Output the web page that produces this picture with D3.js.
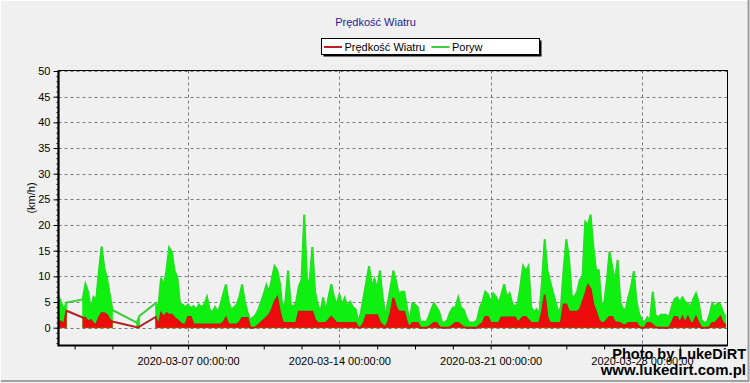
<!DOCTYPE html>
<html><head><meta charset="utf-8">
<script src="https://cdn.jsdelivr.net/npm/d3@7"></script>
<style>
html,body{margin:0;padding:0;background:#f0f0f0;}
svg{display:block;font-family:"Liberation Sans",Arial,sans-serif;}
</style></head>
<body>
<svg id="c" width="750" height="383"></svg>
<script>
// ---- data (3-hourly samples from 2020-03-01 00:00; null = no data) ----
const title = "Prędkość Wiatru";
const seriesNames = ["Prędkość Wiatru", "Poryw"];
const yLabel = "(km/h)";
const startTime = new Date(2020, 2, 1, 0, 0);
const endTime = new Date(2020, 2, 31, 23, 0);
const stepHours = 3;
const xTickLabels = ["2020-03-07 00:00:00", "2020-03-14 00:00:00", "2020-03-21 00:00:00", "2020-03-28 00:00:00"];
const yTicks = [0, 5, 10, 15, 20, 25, 30, 35, 40, 45, 50];

const gust = [
6.2,5.0,3.5,4.9,null,null,null,null,null,5.5,
8.5,7.0,3.5,6.0,5.5,11,15.8,11.6,9.6,6.5,
3.45,null,null,null,null,null,null,null,null,1.0,
2.3,null,null,null,null,null,4.75,4,9.7,8,
11.2,15.6,14.7,11.0,9.9,4.7,4.5,4.0,4.5,3.8,
4.2,3.5,4.5,4.0,4.5,6.0,3.5,3.0,4.0,3.0,
4.5,6.5,8.4,5.0,3.5,4.0,4.5,6.0,8.4,5.0,
3.0,1.5,2.0,2.5,3.5,5.0,6.5,8.3,7.0,9.5,
12.0,11.2,8.6,3.6,5,11.1,4.5,4.0,5.0,8.0,
9.3,22.0,9.3,9.0,15.7,7.0,4.5,3.0,5.9,3.0,
6.0,8.45,6.0,4.5,6.4,4.5,5.8,4.0,5.0,4.0,
3.6,1.0,3.0,6.0,9.0,12.0,8.0,9.5,7.5,11.1,
6.0,2.0,5.0,8.0,11.1,9.0,6.5,7.0,7.0,4.0,
1.0,4.75,4.5,4.0,1.0,1.2,1.0,2.0,3.5,4.75,
4.0,3.0,1.0,1.0,1.5,3.0,3.9,4.0,5.9,3.9,
3.5,2.0,1.0,1.0,1.0,1.5,3.9,5.0,7.0,6.5,
5.0,6.7,6.0,4.75,6.5,8.45,6.0,6.7,4.75,4.0,
4.75,8.0,12.0,11.0,12.0,4.0,3.0,3.6,2.5,9.0,
17.2,11.2,9.0,7.0,5.0,3.0,4.0,11.2,17.2,13.6,
6.2,6.0,7.0,9.3,10,20.6,20.0,22.0,15.8,11.2,
11.2,4.75,4.75,9.0,14.8,11.8,9.0,13.2,5.0,3.6,
3.6,6.0,8.0,11.0,5.0,2.6,1.5,1.0,2.0,1.5,
7.0,2.5,2.0,2.5,2.5,2.5,2.0,4.0,5.5,5.9,
5.0,5.9,5.0,4.75,4.0,5.5,6.7,5.0,1.5,1.0,
1.0,2.5,4.75,4.0,4.75,4.5,3.0,2.0
];
const speed = [
1.0,1.2,0.5,3.3,null,null,null,null,null,2.0,
1.9,1.2,1.5,0.8,0.5,2.0,2.8,2.8,2.5,1.5,
1.2,null,null,null,null,null,null,null,null,0.1,
0.2,null,null,null,null,null,2.1,0.3,2.8,2.0,
2.8,2.5,2.5,1.9,1.5,1.0,0.6,0.6,2.1,2.1,
0.6,0.6,0.6,0.6,0.6,0.6,0.6,0.6,0.6,0.6,
0.6,1.0,1.9,0.6,0.6,0.6,0.6,1.0,1.9,1.9,
1.9,0,0,0.1,0.5,1.0,1.5,2.0,2.5,3.5,
5.0,5.9,3.0,1.0,0.9,0.9,0.9,0.9,0.9,3.1,
3.1,3.1,3.1,3.1,3.1,1.5,0.9,0.9,0.9,0.9,
1.5,2.1,1.5,0.9,0.9,0.9,0.9,0.9,0.9,0.9,
0.9,0,0.1,0.9,2.4,2.4,2.4,2.4,2.4,1.0,
0.5,0.1,1.0,3.0,5.8,4.0,3.1,3.1,3.1,1.0,
0,0.9,0.9,0.9,0,0,0,0.1,0.5,0.9,
0.9,0.1,0,0,0,0.1,0.5,0.9,0.9,0.5,
0.1,0,0,0,0,0,0.5,0.9,2.1,2.1,
0.9,0.9,0.9,0.9,2.0,2.0,2.0,2.0,2.0,2.0,
1.0,1.5,2.1,2.1,1.5,0.9,0.9,0.9,0.9,3.0,
6.4,2.0,0.9,0.9,0.9,0.9,0.9,4.5,4.5,3.1,
3.1,3.1,3.1,3.5,5.0,6.5,8.3,7.5,4.5,3.1,
1.5,0.9,0.9,1.5,2.1,2.1,1.0,1.0,0.9,0.5,
0.5,0.9,0.9,0.9,0.9,0.1,0,0,0.9,0.9,
0.5,0.1,0,0,0,0,0,0.9,2.1,2.1,
0.9,2.1,0.9,2.1,0.9,0.9,2.1,0.9,0,0,
0,0.1,0.9,0.9,1.5,2.1,0.9,0.5
];

// ---- layout ----
const svg = d3.select("#c");
const plot = {left: 58.5, right: 727.5, top: 70.5, bottom: 345.5};
const hour = 3600 * 1000;
const timeAt = i => new Date(startTime.getTime() + i * stepHours * hour);

const x = d3.scaleTime().domain([startTime, endTime]).range([58.4, plot.right]);
const y = d3.scaleLinear().domain([-3.47, 50.1]).range([plot.bottom, plot.top]);

// background + frame
svg.append("rect").attr("width", 750).attr("height", 383).attr("fill", "#f0f0f0");
svg.append("path").attr("d", "M0.5,381 V0.5 H748").attr("fill", "none").attr("stroke", "#ffffff");
svg.append("path").attr("d", "M1,381 H748.5 V0").attr("fill", "none").attr("stroke", "#a0a0a0").attr("stroke-width", 2);

// title
svg.append("text").attr("x", 375.5).attr("y", 26).attr("text-anchor", "middle")
  .attr("font-size", 11).attr("fill", "#1e1e9b").text(title);

// legend
const lg = svg.append("g");
lg.append("rect").attr("x", 323.5).attr("y", 40.5).attr("width", 218).attr("height", 16).attr("fill", "#000");
lg.append("rect").attr("x", 321.5).attr("y", 38.5).attr("width", 218).attr("height", 16)
  .attr("fill", "#fff").attr("stroke", "#000");
const legendColors = ["#c02020", "#3ccc3c"];
const legendX = [324, 431.5];
seriesNames.forEach((n, i) => {
  lg.append("line").attr("x1", legendX[i]).attr("x2", legendX[i] + 18).attr("y1", 47).attr("y2", 47)
    .attr("stroke", legendColors[i]).attr("stroke-width", 2);
  lg.append("text").attr("x", legendX[i] + 20.5).attr("y", 51).attr("font-size", 11).attr("fill", "#000").text(n);
});

// gridlines
const g = svg.append("g");
g.selectAll(".hg").data(yTicks).join("line")
  .attr("x1", plot.left).attr("x2", plot.right)
  .attr("y1", d => Math.round(y(d)) + 0.5).attr("y2", d => Math.round(y(d)) + 0.5)
  .attr("stroke", "#7a7a7a").attr("stroke-dasharray", "3,3");
const labelDates = xTickLabels.map(s => d3.timeParse("%Y-%m-%d %H:%M:%S")(s));
g.selectAll(".vg").data(labelDates).join("line")
  .attr("x1", d => Math.round(x(d)) + 0.5).attr("x2", d => Math.round(x(d)) + 0.5)
  .attr("y1", plot.top).attr("y2", plot.bottom)
  .attr("stroke", "#7a7a7a").attr("stroke-dasharray", "3,3");

// data
const idx = d3.range(gust.length);
svg.append("clipPath").attr("id", "pc").append("rect")
  .attr("x", plot.left).attr("y", plot.top).attr("width", plot.right - plot.left).attr("height", plot.bottom - plot.top);
const dg = svg.append("g").attr("clip-path", "url(#pc)");

function drawSeries(vals, lineColor, fillColor, strokeW) {
  const pts = idx.map(i => ({t: timeAt(i), v: vals[i]}));
  const present = pts.filter(p => p.v != null);
  dg.append("path").datum(present)
    .attr("d", d3.line().x(p => x(p.t)).y(p => y(p.v)))
    .attr("fill", "none").attr("stroke", lineColor).attr("stroke-width", 2);
  dg.append("path").datum(pts)
    .attr("d", d3.area().defined(p => p.v != null).x(p => x(p.t)).y0(y(0)).y1(p => y(p.v)))
    .attr("fill", fillColor).attr("stroke", fillColor).attr("stroke-width", strokeW);
}
drawSeries(gust, "#3ccc3c", "#10f010", 0.8);
drawSeries(speed, "#b22222", "#ee0b0b", 0.4);

// axes
const yAxis = d3.axisLeft(y).tickValues(yTicks).tickSize(5).tickPadding(3);
const ya = svg.append("g").attr("transform", `translate(${plot.left},0)`).call(yAxis);
ya.select(".domain").remove();
ya.selectAll("text").attr("font-size", 11).attr("fill", "#000").attr("font-family", "Liberation Sans, Arial, sans-serif");
ya.selectAll("line").attr("stroke", "#000");
const yMinor = d3.axisLeft(y).tickValues(d3.range(-3, 51, 1)).tickSize(2).tickFormat("");
const ym = svg.append("g").attr("transform", `translate(${plot.left},0)`).call(yMinor);
ym.select(".domain").remove();
ym.selectAll("line").attr("stroke", "#000");

const xAxis = d3.axisBottom(x).tickValues(labelDates).tickSize(0).tickPadding(12)
  .tickFormat((d, i) => xTickLabels[i]);
const xa = svg.append("g").attr("transform", `translate(0,${plot.bottom})`).call(xAxis);
xa.select(".domain").remove();
xa.selectAll("text").attr("font-size", 11).attr("fill", "#000").attr("font-family", "Liberation Sans, Arial, sans-serif");
const minorDates = d3.range(-3, 14).map(k => new Date(labelDates[0].getTime() + k * 42 * hour));
const xMinor = d3.axisBottom(x).tickValues(minorDates.filter(d => d > startTime && d < endTime)).tickSize(4).tickFormat("");
const xm = svg.append("g").attr("transform", `translate(0,${plot.bottom})`).call(xMinor);
xm.select(".domain").remove();
xm.selectAll("line").attr("stroke", "#000");

// plot frame
svg.append("rect").attr("x", plot.left).attr("y", plot.top).attr("width", plot.right - plot.left)
  .attr("height", plot.bottom - plot.top).attr("fill", "none").attr("stroke", "#000");
svg.append("path").attr("d", `M${plot.left},${plot.top} V${plot.bottom} H${plot.right}`)
  .attr("fill", "none").attr("stroke", "#000").attr("stroke-width", 2.2);

// y title
svg.append("text").attr("transform", "translate(35,198) rotate(-90)").attr("text-anchor", "middle")
  .attr("font-size", 11).attr("fill", "#000").text(yLabel);

// watermark (drawn over the last date label, as in the original)
svg.append("text").attr("x", 746).attr("y", 358.5).attr("text-anchor", "end")
  .attr("font-size", 14.5).attr("font-weight", "bold").attr("fill", "#000").text("Photo by LukeDiRT");
svg.append("text").attr("x", 746).attr("y", 375).attr("text-anchor", "end")
  .attr("font-size", 15).attr("font-weight", "bold").attr("fill", "#000").text("www.lukedirt.com.pl");
</script>
</body></html>
